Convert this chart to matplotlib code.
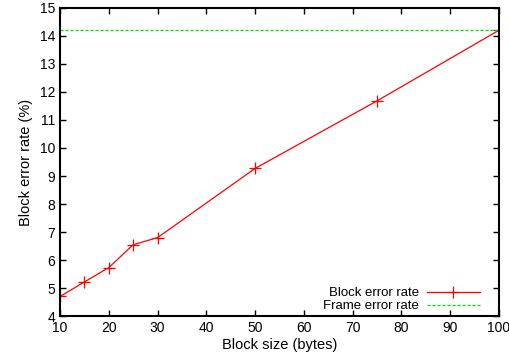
import matplotlib
matplotlib.use("Agg")
from matplotlib import pyplot as plt

plt.rcParams['font.family'] = ['Liberation Sans', 'DejaVu Sans']

block_size = [10, 15, 20, 25, 30, 50, 75, 100]
block_err = [4.7, 5.22, 5.73, 6.55, 6.8, 9.27, 11.68, 14.2]
frame_err = 14.2

fig = plt.figure(figsize=(5.09, 3.6), dpi=100)
ax = fig.add_axes([0.118, 0.122, 0.862, 0.856])

ax.plot(block_size, block_err, color='red', lw=0.9, marker='+', ms=8, mew=0.9,
        label='Block error rate')
ax.axhline(frame_err, color='#00dd00', lw=0.9, ls=(0, (2.5, 1.5)), label='Frame error rate')

ax.set_xlim(10, 100)
ax.set_ylim(4, 15)
ax.set_xticks(range(10, 101, 10))
ax.set_yticks(range(4, 16))
ax.tick_params(direction='in', top=True, right=True, length=4, width=1, labelsize=10)
for s in ax.spines.values():
    s.set_linewidth(1.5)

ax.set_xlabel('Block size (bytes)', fontsize=10.5, labelpad=2)
ax.set_ylabel('Block error rate (%)', fontsize=10.5, labelpad=5)

ax.legend(loc='lower right', frameon=False, markerfirst=False, fontsize=9.5,
          handlelength=4.0, borderaxespad=0.1, borderpad=0.2, labelspacing=0.05,
          handletextpad=0.6, bbox_to_anchor=(0.965, 0.0))

fig.savefig('out.png', dpi=100)
